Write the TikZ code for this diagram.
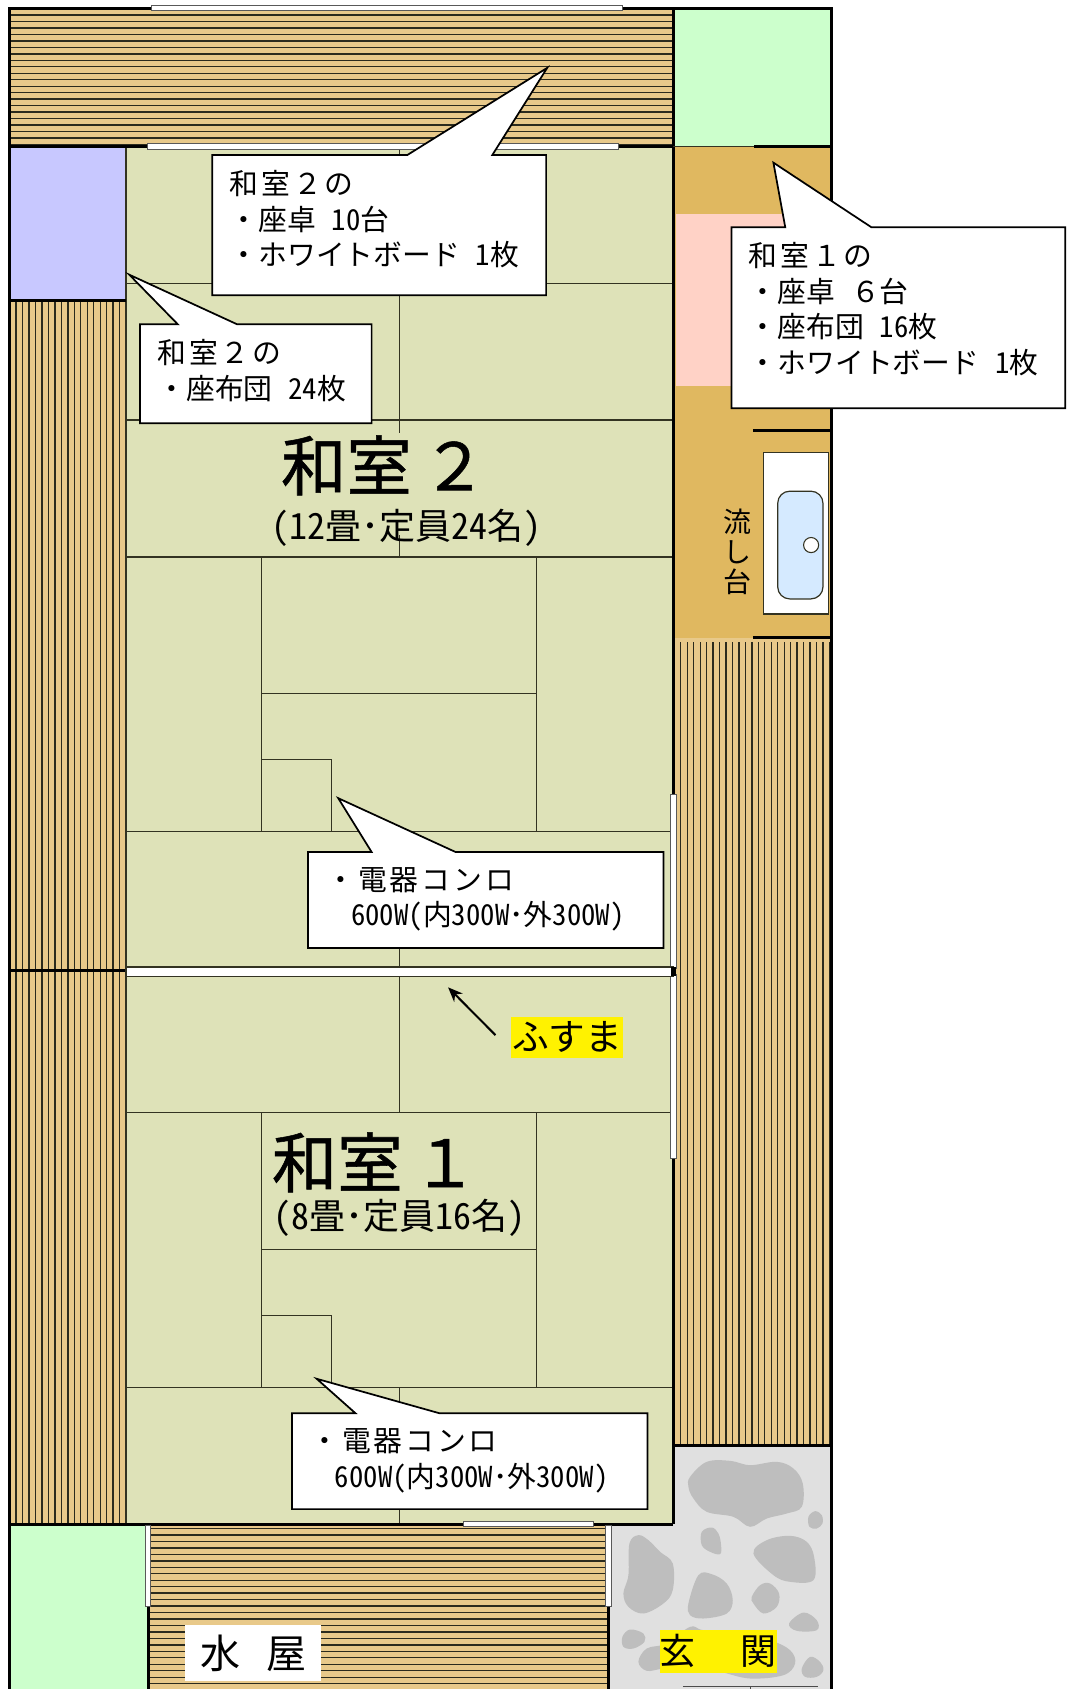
\documentclass[tikz,border=0pt]{standalone}
\usepackage{fontspec}
\usetikzlibrary{arrows.meta}
\setmainfont{Noto Sans CJK JP}
\newfontfamily\lspf[LetterSpace=10]{Noto Sans CJK JP}
\newfontfamily\hwf[RawFeature=+hwid]{Noto Sans CJK JP}
\newfontfamily\bigf[FakeBold=0.8]{Noto Sans CJK JP}
\newcommand\hn[1]{{\hwf #1}}
\newcommand\fz[2]{\fontsize{#1pt}{#2pt}\selectfont}
\definecolor{tatami}{HTML}{DEE2B8}
\definecolor{wood}{HTML}{E8C98A}
\definecolor{floorc}{HTML}{E0B860}
\definecolor{garden}{HTML}{CCFFCC}
\definecolor{closet}{HTML}{C8C8FF}
\definecolor{pinkc}{HTML}{FFD2C6}
\definecolor{sinkc}{HTML}{D5EAFF}
\definecolor{stonec}{HTML}{BEBEBE}
\definecolor{entryc}{HTML}{E0E0E0}
\definecolor{inkc}{HTML}{333322}
\tikzset{
  x=0.8078pt,y=-0.8078pt,
  wall/.style={draw=black,line width=2.2pt},
  matline/.style={draw=inkc,line width=0.95pt},
  hatchline/.style={draw=inkc!85!black,line width=1pt},
  slider/.style={draw=gray!70!black,fill=white,line width=0.7pt},
  callout/.style={draw=black,fill=white,line width=1.3pt,line join=miter},
  calltext/.style={anchor=north west,inner sep=0pt,align=left,font=\fz{21.6}{26.66}},
  roomname/.style={inner sep=0pt,font=\fz{49}{50}\bigf},
  roomsub/.style={inner sep=0pt,font=\fz{27}{30}}
}
\begin{document}
\begin{tikzpicture}
\useasboundingbox (0,0) rectangle (999,1568);
\clip (0,0) rectangle (999,1568);
% floors
\fill[tatami] (117,136) rectangle (625,1415);
\fill[wood] (9,8) rectangle (625,136);
\fill[wood] (9,279) rectangle (117,1415);
\fill[wood] (627,592) rectangle (772,1342);
\fill[wood] (138,1415) rectangle (565,1568);
\fill[garden] (625,8) rectangle (772,136);
\fill[garden] (9,1415) rectangle (137,1568);
\fill[floorc] (625,136) rectangle (772,592);
\fill[pinkc] (628,199) rectangle (770,358);
\draw[fill=closet,draw=gray!60!black,line width=0.8pt] (9,137) rectangle (117,279);
\fill[entryc] (565,1415) rectangle (772,1568);
\fill[entryc] (625,1342) rectangle (772,1415);
% stones (coordinates in 3x crop pixels)
\begin{scope}[shift={(547.8,1318.4)},x=0.25pt,y=-0.25pt]
\fill[stonec] plot[smooth cycle,tension=0.6] coordinates {(300,170)(350,125)(420,122)(480,135)(560,125)(610,145)(638,190)(635,260)(590,280)(530,295)(480,320)(430,290)(350,275)(310,235)(295,200)};
\fill[stonec] plot[smooth cycle,tension=0.6] coordinates {(655,290)(675,273)(695,285)(697,310)(680,325)(658,320)};
\fill[stonec] plot[smooth cycle,tension=0.6] coordinates {(335,335)(365,322)(385,340)(393,375)(390,402)(360,395)(335,375)};
\fill[stonec] plot[smooth cycle,tension=0.6] coordinates {(490,400)(530,360)(600,347)(650,365)(672,410)(670,480)(600,485)(550,465)};
\fill[stonec] plot[smooth cycle,tension=0.6] coordinates {(118,370)(145,345)(175,360)(210,395)(248,430)(248,510)(220,550)(160,580)(115,560)(100,520)(115,465)};
\fill[stonec] plot[smooth cycle,tension=0.6] coordinates {(295,550)(325,465)(365,462)(410,490)(428,540)(410,580)(340,595)(300,585)};
\fill[stonec] plot[smooth cycle,tension=0.6] coordinates {(485,530)(510,495)(540,490)(567,520)(560,560)(520,580)(490,550)};
\fill[stonec] plot[smooth cycle,tension=0.6] coordinates {(597,610)(640,577)(680,600)(680,630)(620,632)};
\fill[stonec] plot[smooth cycle,tension=0.6] coordinates {(97,650)(120,628)(160,640)(163,665)(130,685)(100,680)};
\fill[stonec] plot[smooth cycle,tension=0.6] coordinates {(145,725)(170,685)(230,670)(300,620)(340,630)(450,640)(540,660)(600,690)(615,730)(580,765)(480,775)(390,755)(300,740)(220,745)(170,752)};
\fill[stonec] plot[smooth cycle,tension=0.6] coordinates {(635,745)(660,710)(690,725)(700,750)(680,770)(645,770)};
\end{scope}
% hatching
\foreach \y in {14,20,...,134} \draw[hatchline] (10,\y) -- (624,\y);
\foreach \y in {1419,1425,...,1568} \draw[hatchline] (138,\y) -- (565,\y);
\foreach \x in {15,21,...,116} \draw[hatchline] (\x,280) -- (\x,1415);
\foreach \x in {632,638,...,771} \draw[hatchline] (\x,596) -- (\x,1342);
% tatami seams
\foreach \y in {263,390,517,772,1033,1288} \draw[matline] (117,\y) -- (625,\y);
\foreach \y in {644,1160} \draw[matline] (243,\y) -- (498,\y);
\foreach \x in {243,498} {\draw[matline] (\x,517) -- (\x,772); \draw[matline] (\x,1033) -- (\x,1288);}
\draw[matline] (371,136) -- (371,402);
\draw[matline] (371,497) -- (371,517);
\draw[matline] (371,772) -- (371,1033);
\draw[matline] (371,1288) -- (371,1415);
\draw[matline] (243,705) -- (308,705) -- (308,772);
\draw[matline] (243,1221) -- (308,1221) -- (308,1288);
\draw[matline] (117,136) -- (117,1415);
% walls
\draw[wall] (9,1568) -- (9,8) -- (772,8) -- (772,1568);
\draw[wall] (625,8) -- (625,1415);
\draw[wall] (9,136) -- (625,136);
\draw[matline] (625,136) -- (700,136);
\draw[wall] (700,136) -- (772,136);
\draw[wall] (9,279) -- (117,279);
\draw[wall] (9,901) -- (117,901);
\draw[wall] (9,1415) -- (625,1415);
\draw[wall] (625,1342) -- (772,1342);
\draw[wall] (699,400) -- (772,400);
\draw[wall] (699,592) -- (772,592);
\draw[wall] (137.5,1415) -- (137.5,1568);
\draw[wall] (565,1415) -- (565,1568);
% sink
\draw[draw=inkc,fill=white,line width=0.8pt] (709,420) rectangle (769,570);
\draw[draw=inkc,fill=sinkc,line width=0.9pt,rounded corners=9pt] (722,456) rectangle (764,556);
\draw[draw=inkc,fill=white,line width=0.8pt] (753,506) circle (7);
\node (sinklabel) [inner sep=0pt,align=center,font=\fz{21}{22.6}] at (685,512) {流\\し\\台};
% sliding doors
\draw[slider] (141,5) rectangle (578,9.5);
\draw[slider] (137,133.5) rectangle (574,138.5);
\draw[slider] (430,1412.5) rectangle (551,1417.5);
\draw[slider] (135,1416) rectangle (140,1491);
\draw[slider] (562.5,1416) rectangle (567.5,1491);
\draw[slider] (622.7,738) rectangle (627.6,899);
\draw[slider] (622.7,905) rectangle (627.6,1075);
\draw[draw=inkc,fill=white,line width=1.1pt] (117,897.5) rectangle (625,906.5);
\fill[black] (623,897.5) rectangle (627.5,906.5);
% entry door
\draw[draw=gray!60!black,line width=0.8pt] (634,1566) -- (759,1566);
\draw[draw=gray!60!black,line width=0.8pt] (697,1566) -- (697,1568);
% room names
\node (room2) [roomname] at (356.5,432) {和室\hspace{.15em}２};
\node (room2sub) [roomsub] at (377,490) {\hn{(12}畳\hn{･}定員\hn{24}名\hn{)}};
\node (room1) [roomname] at (348,1079) {和室\hspace{.15em}１};
\node (room1sub) [roomsub] at (371,1131) {\hn{(8}畳\hn{･}定員\hn{16}名\hn{)}};
% fusuma label
\node (fusuma) [fill=yellow,inner sep=0pt,minimum width=84pt,minimum height=31pt,font=\fz{27.5}{30}] at (526.5,963) {ふすま};
\coordinate (fusumatip) at (416,916.6);
\draw[-{Stealth[length=11pt,width=9pt]},line width=1.5pt] (460,961) -- (fusumatip);
% entry and water room labels
\node (genkan) [fill=yellow,inner sep=0pt,minimum width=84.7pt,minimum height=32pt,font=\fz{27}{29}] at (667,1533) {玄\hspace{1.25em}関};
\node (mizuya) [fill=white,inner sep=0pt,minimum width=101.8pt,minimum height=42pt,font=\fz{30}{32}] at (235,1535) {水\hspace{.65em}屋};
% callouts
\draw[callout] (197,144) -- (378,144) -- (508,63) -- (457,144) -- (507,144) -- (507,274) -- (197,274) -- cycle;
\node (noteA) [calltext] at (213,158) {{\lspf 和室２の}\\・座卓\hspace{.55em}\hn{10}台\\・ホワイトボード\hspace{.55em}\hn{1}枚};
\draw[callout] (130,301) -- (165,301) -- (120,255) -- (220,301) -- (345,301) -- (345,393) -- (130,393) -- cycle;
\node (noteB) [calltext] at (146,315) {{\lspf 和室２の}\\・座布団\hspace{.55em}\hn{24}枚};
\draw[callout] (679,211) -- (729,211) -- (718,151) -- (809,211) -- (989,211) -- (989,379) -- (679,379) -- cycle;
\node (noteC) [calltext] at (695,225) {{\lspf 和室１の}\\・座卓\hspace{.55em}６台\\・座布団\hspace{.55em}\hn{16}枚\\・ホワイトボード\hspace{.55em}\hn{1}枚};
\draw[callout] (286,791) -- (345,791) -- (314,741) -- (423,791) -- (616,791) -- (616,880) -- (286,880) -- cycle;
\node (noteD) [calltext] at (303,805) {{\lspf ・電器コンロ}\\\hspace{.85em}\hn{600W(}内\hn{300W･}外\hn{300W)}};
\draw[callout] (271,1312) -- (330,1312) -- (294,1280) -- (408,1312) -- (601,1312) -- (601,1401) -- (271,1401) -- cycle;
\node (noteE) [calltext] at (288,1326) {{\lspf ・電器コンロ}\\\hspace{.85em}\hn{600W(}内\hn{300W･}外\hn{300W)}};
\end{tikzpicture}
\end{document}
